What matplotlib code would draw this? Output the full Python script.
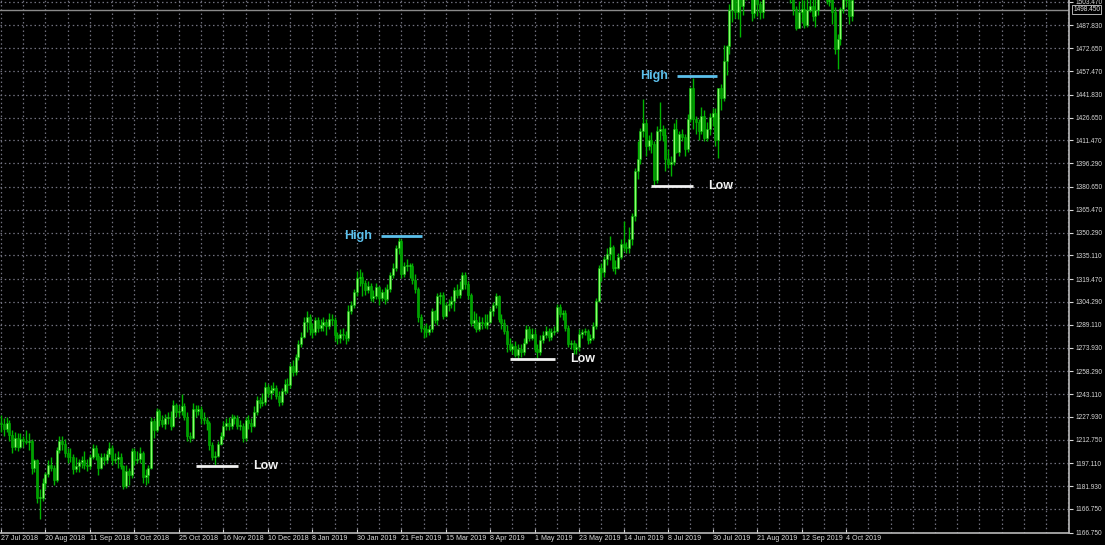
import numpy as np
import matplotlib
matplotlib.use("Agg")
import matplotlib.pyplot as plt

# daily OHLC, 27 Jul 2018 .. 8 Oct 2019
opens = [1224, 1223, 1220, 1224, 1216, 1208, 1214, 1208, 1213, 1212, 1211, 1212, 1194, 1199, 1174, 1174,
         1184, 1190, 1196, 1194, 1186, 1206, 1212, 1210, 1204, 1201, 1201, 1193, 1195, 1198, 1199, 1196,
         1195, 1201, 1207, 1202, 1194, 1201, 1199, 1203, 1207, 1199, 1200, 1201, 1195, 1182, 1192, 1189,
         1205, 1199, 1200, 1204, 1188, 1189, 1194, 1225, 1219, 1232, 1226, 1223, 1227, 1227, 1222, 1236,
         1231, 1232, 1235, 1228, 1215, 1214, 1233, 1232, 1233, 1227, 1226, 1224, 1209, 1201, 1202, 1210,
         1215, 1222, 1224, 1222, 1227, 1227, 1222, 1222, 1214, 1226, 1224, 1222, 1231, 1239, 1237, 1238,
         1248, 1244, 1246, 1247, 1242, 1238, 1245, 1250, 1249, 1262, 1258, 1268, 1276, 1281, 1291, 1294,
         1286, 1284, 1292, 1287, 1289, 1291, 1288, 1293, 1292, 1282, 1280, 1283, 1282, 1280, 1298, 1302,
         1311, 1320, 1321, 1317, 1312, 1315, 1307, 1308, 1314, 1307, 1311, 1306, 1313, 1322, 1327, 1340,
         1345, 1323, 1328, 1328, 1328, 1319, 1313, 1294, 1287, 1286, 1284, 1286, 1298, 1292, 1308, 1309,
         1295, 1302, 1303, 1305, 1312, 1309, 1313, 1322, 1316, 1309, 1290, 1292, 1286, 1291, 1290, 1289,
         1291, 1298, 1302, 1308, 1293, 1290, 1285, 1276, 1273, 1275, 1269, 1273, 1271, 1277, 1286, 1280,
         1283, 1273, 1271, 1279, 1282, 1285, 1281, 1284, 1285, 1301, 1296, 1297, 1287, 1276, 1277, 1273,
         1274, 1283, 1284, 1285, 1279, 1280, 1288, 1305, 1327, 1324, 1333, 1336, 1341, 1327, 1327, 1334,
         1343, 1341, 1340, 1346, 1361, 1391, 1399, 1418, 1423, 1408, 1412, 1409, 1385, 1418, 1419, 1415,
         1399, 1396, 1397, 1419, 1404, 1416, 1414, 1406, 1426, 1446, 1426, 1424, 1418, 1428, 1413, 1419,
         1427, 1430, 1412, 1446, 1440, 1464, 1474, 1498, 1509, 1497, 1511, 1501, 1516, 1523, 1513, 1496,
         1507, 1502, 1497, 1527, 1527, 1542, 1540, 1527, 1520, 1529, 1547, 1549, 1519, 1507, 1499, 1486,
         1497, 1499, 1488, 1498, 1501, 1494, 1498, 1517, 1522, 1532, 1504, 1505, 1497, 1472, 1479, 1499,
         1507, 1505, 1494]
highs = [1229, 1227, 1228, 1226, 1219, 1218, 1217, 1217, 1215, 1219, 1217, 1213, 1200, 1200, 1180, 1187,
         1191, 1199, 1201, 1196, 1208, 1215, 1215, 1213, 1207, 1207, 1203, 1201, 1200, 1202, 1205, 1200,
         1203, 1210, 1209, 1204, 1204, 1204, 1206, 1211, 1209, 1204, 1205, 1204, 1196, 1196, 1194, 1207,
         1207, 1205, 1208, 1205, 1193, 1196, 1228, 1227, 1234, 1233, 1229, 1230, 1231, 1232, 1239, 1237,
         1236, 1243, 1237, 1231, 1218, 1237, 1236, 1236, 1235, 1231, 1228, 1225, 1211, 1205, 1212, 1218,
         1225, 1227, 1228, 1230, 1229, 1229, 1226, 1224, 1228, 1229, 1227, 1235, 1242, 1241, 1244, 1251,
         1250, 1249, 1251, 1249, 1245, 1247, 1253, 1254, 1264, 1266, 1270, 1279, 1284, 1294, 1298, 1296,
         1290, 1294, 1294, 1293, 1294, 1293, 1297, 1296, 1294, 1284, 1286, 1287, 1285, 1302, 1305, 1313,
         1325, 1326, 1324, 1319, 1318, 1317, 1312, 1317, 1315, 1313, 1314, 1316, 1324, 1330, 1342, 1347,
         1346, 1331, 1333, 1330, 1330, 1323, 1314, 1296, 1289, 1290, 1289, 1300, 1299, 1310, 1311, 1311,
         1304, 1306, 1308, 1314, 1316, 1318, 1324, 1324, 1318, 1310, 1298, 1297, 1295, 1294, 1296, 1296,
         1300, 1304, 1310, 1309, 1296, 1293, 1289, 1280, 1277, 1278, 1276, 1276, 1280, 1289, 1288, 1287,
         1286, 1276, 1282, 1285, 1288, 1287, 1287, 1288, 1303, 1303, 1299, 1299, 1289, 1279, 1279, 1277,
         1286, 1286, 1287, 1286, 1283, 1291, 1307, 1329, 1330, 1335, 1340, 1348, 1342, 1332, 1337, 1346,
         1358, 1344, 1354, 1363, 1393, 1411, 1420, 1439, 1426, 1415, 1417, 1411, 1421, 1437, 1422, 1420,
         1406, 1401, 1423, 1426, 1418, 1419, 1416, 1429, 1447, 1453, 1428, 1426, 1434, 1432, 1424, 1430,
         1433, 1433, 1446, 1449, 1475, 1475, 1502, 1510, 1512, 1515, 1534, 1520, 1524, 1526, 1515, 1509,
         1509, 1504, 1527, 1555, 1543, 1550, 1544, 1530, 1532, 1547, 1557, 1553, 1525, 1511, 1501, 1504,
         1510, 1505, 1512, 1508, 1506, 1509, 1519, 1525, 1535, 1535, 1512, 1508, 1500, 1482, 1500, 1515,
         1510, 1508, 1510]
lows = [1218, 1215, 1218, 1212, 1204, 1206, 1205, 1207, 1208, 1210, 1206, 1190, 1191, 1171, 1160, 1172,
        1180, 1188, 1192, 1183, 1185, 1204, 1206, 1201, 1197, 1198, 1190, 1191, 1191, 1194, 1193, 1192,
        1193, 1200, 1199, 1189, 1193, 1196, 1197, 1201, 1196, 1197, 1194, 1193, 1180, 1181, 1183, 1187,
        1196, 1197, 1197, 1184, 1183, 1184, 1193, 1214, 1218, 1222, 1221, 1220, 1223, 1219, 1221, 1228,
        1228, 1229, 1226, 1212, 1211, 1213, 1228, 1229, 1223, 1223, 1219, 1206, 1199, 1196, 1201, 1209,
        1213, 1219, 1219, 1220, 1223, 1220, 1219, 1211, 1212, 1220, 1218, 1221, 1229, 1234, 1235, 1236,
        1241, 1240, 1244, 1240, 1235, 1236, 1243, 1244, 1247, 1255, 1256, 1266, 1274, 1280, 1284, 1282,
        1280, 1282, 1284, 1285, 1285, 1282, 1286, 1289, 1278, 1276, 1277, 1279, 1276, 1278, 1296, 1300,
        1308, 1315, 1308, 1309, 1310, 1305, 1304, 1306, 1302, 1305, 1303, 1305, 1311, 1320, 1325, 1336,
        1320, 1321, 1325, 1320, 1316, 1310, 1291, 1284, 1280, 1281, 1282, 1284, 1290, 1289, 1303, 1293,
        1294, 1298, 1300, 1298, 1307, 1307, 1312, 1313, 1306, 1288, 1287, 1284, 1285, 1286, 1287, 1286,
        1290, 1295, 1300, 1291, 1286, 1283, 1271, 1272, 1270, 1268, 1266, 1268, 1269, 1276, 1278, 1279,
        1271, 1266, 1269, 1277, 1280, 1278, 1279, 1282, 1284, 1294, 1292, 1285, 1274, 1273, 1270, 1270,
        1272, 1280, 1282, 1276, 1277, 1279, 1286, 1304, 1318, 1321, 1329, 1332, 1325, 1323, 1326, 1333,
        1338, 1337, 1337, 1342, 1358, 1386, 1396, 1414, 1401, 1405, 1403, 1381, 1383, 1412, 1411, 1391,
        1393, 1388, 1395, 1403, 1401, 1411, 1401, 1404, 1424, 1419, 1416, 1412, 1416, 1411, 1411, 1415,
        1421, 1408, 1400, 1432, 1438, 1455, 1469, 1490, 1493, 1492, 1480, 1495, 1505, 1507, 1491, 1493,
        1494, 1492, 1493, 1518, 1525, 1533, 1523, 1516, 1518, 1526, 1540, 1515, 1503, 1495, 1485, 1486,
        1490, 1486, 1487, 1497, 1491, 1487, 1495, 1510, 1521, 1502, 1501, 1489, 1469, 1459, 1475, 1496,
        1500, 1489, 1491]
closes = [1223, 1220, 1224, 1216, 1208, 1214, 1208, 1213, 1212, 1211, 1212, 1194, 1199, 1174, 1174, 1184,
          1190, 1196, 1194, 1186, 1206, 1212, 1210, 1204, 1201, 1201, 1193, 1195, 1198, 1199, 1196, 1195,
          1201, 1207, 1202, 1194, 1201, 1199, 1203, 1207, 1199, 1200, 1201, 1195, 1182, 1192, 1189, 1205,
          1199, 1200, 1204, 1188, 1189, 1194, 1225, 1219, 1232, 1226, 1223, 1227, 1227, 1222, 1236, 1231,
          1232, 1235, 1228, 1215, 1214, 1233, 1232, 1233, 1227, 1226, 1224, 1209, 1201, 1202, 1210, 1215,
          1222, 1224, 1222, 1227, 1227, 1222, 1222, 1214, 1226, 1224, 1222, 1231, 1239, 1237, 1238, 1248,
          1244, 1246, 1247, 1242, 1238, 1245, 1250, 1249, 1262, 1258, 1268, 1276, 1281, 1291, 1294, 1286,
          1284, 1292, 1287, 1289, 1291, 1288, 1293, 1292, 1282, 1280, 1283, 1282, 1280, 1298, 1302, 1311,
          1320, 1321, 1317, 1312, 1315, 1307, 1308, 1314, 1307, 1311, 1306, 1313, 1322, 1327, 1340, 1345,
          1323, 1328, 1328, 1328, 1319, 1313, 1294, 1287, 1286, 1284, 1286, 1298, 1292, 1308, 1309, 1295,
          1302, 1303, 1305, 1312, 1309, 1313, 1322, 1316, 1309, 1290, 1292, 1286, 1291, 1290, 1289, 1291,
          1298, 1302, 1308, 1293, 1290, 1285, 1276, 1273, 1275, 1269, 1273, 1271, 1277, 1286, 1280, 1283,
          1273, 1271, 1279, 1282, 1285, 1281, 1284, 1285, 1301, 1296, 1297, 1287, 1276, 1277, 1273, 1274,
          1283, 1284, 1285, 1279, 1280, 1288, 1305, 1327, 1324, 1333, 1336, 1341, 1327, 1327, 1334, 1343,
          1341, 1340, 1346, 1361, 1391, 1399, 1418, 1423, 1408, 1412, 1409, 1385, 1418, 1419, 1415, 1399,
          1396, 1397, 1419, 1404, 1416, 1414, 1406, 1426, 1446, 1426, 1424, 1418, 1428, 1413, 1419, 1427,
          1430, 1412, 1446, 1440, 1464, 1474, 1498, 1509, 1497, 1511, 1501, 1516, 1523, 1513, 1496, 1507,
          1502, 1497, 1527, 1527, 1542, 1540, 1527, 1520, 1529, 1547, 1549, 1519, 1507, 1499, 1486, 1497,
          1499, 1488, 1498, 1501, 1494, 1498, 1517, 1522, 1532, 1504, 1505, 1497, 1472, 1479, 1499, 1507,
          1505, 1494, 1505]

date_labels = ["27 Jul 2018", "20 Aug 2018", "11 Sep 2018", "3 Oct 2018", "25 Oct 2018", "16 Nov 2018",
               "10 Dec 2018", "8 Jan 2019", "30 Jan 2019", "21 Feb 2019", "15 Mar 2019", "8 Apr 2019",
               "1 May 2019", "23 May 2019", "14 Jun 2019", "8 Jul 2019", "30 Jul 2019", "21 Aug 2019",
               "12 Sep 2019", "4 Oct 2019"]
price_ticks = [1166.75, 1181.93, 1197.11, 1212.75, 1227.93, 1243.11, 1258.29, 1273.93, 1289.11, 1304.29,
               1319.47, 1335.11, 1350.29, 1365.47, 1380.65, 1396.29, 1411.47, 1426.65, 1441.83, 1457.47,
               1472.65, 1487.83, 1503.47]
bid = 1498.45

# (kind, bar from, bar to, price)
levels = [("Low", 70.1, 85.3, 1195.4), ("High", 136.7, 151.4, 1348.0), ("Low", 183.1, 199.3, 1266.4),
          ("Low", 233.8, 248.9, 1381.3), ("High", 243.2, 257.6, 1454.3)]

o = np.array(opens); h = np.array(highs); l = np.array(lows); c = np.array(closes)
x = np.arange(len(c))

fig = plt.figure(figsize=(11.05, 5.45), dpi=100, facecolor="black")
ax = fig.add_axes([0, 0.022, 0.9674, 0.978], facecolor="black")

ymin, ymax = 1150.8, 1504.76
ax.set_xlim(-0.36, 384.2)
ax.set_ylim(ymin, ymax)

grid_c = "#70707e"
for v in price_ticks:
    ax.axhline(v, color=grid_c, lw=0.9, ls=(0, (1.2, 2.2)), zorder=0)
for b in range(0, 385, 8):
    ax.axvline(b, color=grid_c, lw=0.9, ls=(0, (1.2, 2.2)), zorder=0)

# candles
up = c >= o
ax.vlines(x, l, h, color="#00b400", lw=1.0, zorder=2)
body_lo = np.minimum(o, c)
body_h = np.maximum(np.abs(c - o), 0.6)
ax.bar(x[up], body_h[up], bottom=body_lo[up], width=0.72, color="#8cff6e",
       edgecolor="#00b400", linewidth=0.4, zorder=3)
ax.bar(x[~up], body_h[~up], bottom=body_lo[~up], width=0.72, color="#00a000",
       edgecolor="#00b400", linewidth=0.4, zorder=3)

# bid line
ax.axhline(bid, color="#8a8a8a", lw=1.0, zorder=1)

# high / low markers
for kind, x0, x1, p in levels:
    col = "#5cc0ec" if kind == "High" else "#f2f2f2"
    ax.plot([x0, x1], [p, p], color=col, lw=2.0, solid_capstyle="butt", zorder=4)
    if kind == "High":
        ax.text(x0 - 3.2, p, kind, color=col, fontsize=9, fontweight="bold",
                family="Liberation Sans", ha="right", va="center", zorder=5)
    else:
        ax.text(x1 + 5.4, p, kind, color=col, fontsize=9, fontweight="bold",
                family="Liberation Sans", ha="left", va="center", zorder=5)

for s in ["left", "top"]:
    ax.spines[s].set_visible(False)
ax.spines["right"].set_color("#b8b8b8")
ax.spines["bottom"].set_color("#b8b8b8")
ax.spines["right"].set_linewidth(1.2)
ax.spines["bottom"].set_linewidth(1.2)

ax.yaxis.tick_right()
ax.set_yticks(price_ticks + [ymin + 0.3])
ax.set_yticklabels(["%.3f" % v for v in price_ticks] + ["1166.750"])
ax.tick_params(axis="y", colors="#d8d8d8", labelsize=4.7, length=3, width=0.8, pad=1.5,
               labelfontfamily="Liberation Sans")
ax.set_xticks(np.arange(len(date_labels)) * 16)
ax.set_xticklabels(date_labels)
ax.tick_params(axis="x", colors="#d8d8d8", labelsize=5.1, length=3, width=0.8, pad=1.5,
               direction="in", labelfontfamily="Liberation Sans")
for t in ax.get_xticklabels():
    t.set_ha("left")

# bid price tag
ax.text(1.004, (bid - ymin) / (ymax - ymin), "%.3f" % bid, transform=ax.transAxes,
        color="#e0e0e0", fontsize=4.7, family="Liberation Sans", ha="left", va="center",
        bbox=dict(boxstyle="square,pad=0.15", fc="black", ec="#d0d0d0", lw=0.6), zorder=6,
        clip_on=False)

fig.savefig("out.png", dpi=100, facecolor="black")
